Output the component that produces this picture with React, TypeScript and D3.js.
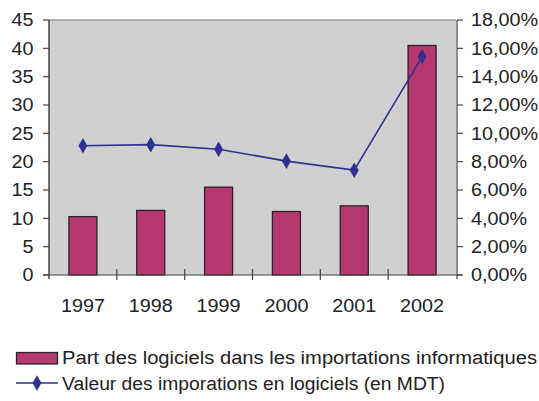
import { useEffect, useRef } from 'react';
import * as d3 from 'd3';

const years = ['1997', '1998', '1999', '2000', '2001', '2002'];
// bars: share of software in IT imports (%), right axis
const partLogiciels = [4.12, 4.56, 6.2, 4.48, 4.88, 16.2];
// line: value of software imports (MDT), left axis
const valeurImports = [22.8, 23.0, 22.2, 20.1, 18.5, 38.5];
const leftTicks = [0, 5, 10, 15, 20, 25, 30, 35, 40, 45];
const rightTicks = [0, 2, 4, 6, 8, 10, 12, 14, 16, 18];

const barLabel = 'Part des logiciels dans les importations informatiques';
const lineLabel = 'Valeur des imporations en logiciels (en MDT)';

export default function App() {
  const ref = useRef<SVGSVGElement | null>(null);

  useEffect(() => {
    const el = ref.current;
    if (!el) return;
    const svg = d3.select(el);
    svg.selectAll('*').remove();

    const font = 'Liberation Sans, Arial, sans-serif';
    const left = 49, right = 456, top = 20, bottom = 275;
    const stretch = 1.07;

    // text with a slight horizontal stretch, like the original
    const label = (g: d3.Selection<SVGGElement, unknown, null, undefined>, s: string, px: number, py: number, anchor: string, dy = '0') =>
      g.append('text').text(s)
        .attr('transform', `translate(${px},${py}) scale(${stretch},1)`)
        .attr('dy', dy)
        .attr('text-anchor', anchor).attr('font-family', font).attr('font-size', 18.5).attr('fill', '#222');

    const x = d3.scaleBand<string>().domain(years).range([left, right]);
    const yL = d3.scaleLinear().domain([0, 45]).range([bottom, top]);
    const yR = d3.scaleLinear().domain([0, 18]).range([bottom, top]);

    svg.append('rect')
      .attr('x', left).attr('y', top)
      .attr('width', right - left).attr('height', bottom - top)
      .attr('fill', '#d0d0d0');
    svg.append('line')
      .attr('x1', left).attr('x2', right).attr('y1', top).attr('y2', top)
      .attr('stroke', '#9a9a9a').attr('stroke-width', 1.5);

    // bars
    const bw = 28;
    svg.append('g')
      .selectAll('rect')
      .data(partLogiciels)
      .join('rect')
      .attr('x', (_, i) => x(years[i])! + x.bandwidth() / 2 - bw / 2)
      .attr('y', (d) => yR(d))
      .attr('width', bw)
      .attr('height', (d) => bottom - yR(d))
      .attr('fill', '#b5396f')
      .attr('stroke', '#2a2226')
      .attr('stroke-width', 1.3);

    // axes lines
    const axisColor = '#444';
    svg.append('line').attr('x1', left).attr('x2', left).attr('y1', top).attr('y2', bottom + 4)
      .attr('stroke', axisColor).attr('stroke-width', 1.5);
    svg.append('line').attr('x1', right + 1).attr('x2', right + 1).attr('y1', top).attr('y2', bottom + 4)
      .attr('stroke', axisColor).attr('stroke-width', 1.2);
    svg.append('line').attr('x1', left - 6).attr('x2', right + 6).attr('y1', bottom).attr('y2', bottom)
      .attr('stroke', axisColor).attr('stroke-width', 1.2);

    // left ticks
    const gl = svg.append('g');
    leftTicks.forEach((t) => {
      gl.append('line').attr('x1', left - 6).attr('x2', left).attr('y1', yL(t)).attr('y2', yL(t))
        .attr('stroke', axisColor).attr('stroke-width', 1.2);
      label(gl, String(t), 33.5, yL(t), 'end', '0.35em');
    });

    // right ticks
    const gr = svg.append('g');
    rightTicks.forEach((t) => {
      gr.append('line').attr('x1', right + 1).attr('x2', right + 7).attr('y1', yR(t)).attr('y2', yR(t))
        .attr('stroke', axisColor).attr('stroke-width', 1.2);
      label(gr, t.toFixed(2).replace('.', ',') + '%', 471, yR(t), 'start', '0.35em');
    });

    // category ticks + labels
    const gx = svg.append('g');
    years.forEach((yr, i) => {
      const bx = x(yr)!;
      if (i > 0) {
        gx.append('line').attr('x1', bx).attr('x2', bx).attr('y1', bottom - 6).attr('y2', bottom + 5)
          .attr('stroke', axisColor).attr('stroke-width', 1.2);
      }
      label(gx, yr, bx + x.bandwidth() / 2, 311.5, 'middle');
    });

    // line
    const line = d3.line<number>()
      .x((_, i) => x(years[i])! + x.bandwidth() / 2)
      .y((d) => yL(d));
    svg.append('path').datum(valeurImports)
      .attr('d', line).attr('fill', 'none')
      .attr('stroke', '#2e3192').attr('stroke-width', 1.6);
    const diamond = d3.symbol().type(d3.symbolDiamond).size(70);
    svg.append('g').selectAll('path')
      .data(valeurImports)
      .join('path')
      .attr('d', diamond)
      .attr('transform', (d, i) => `translate(${x(years[i])! + x.bandwidth() / 2},${yL(d)})`)
      .attr('fill', '#2e3192');

    // legend
    const lg = svg.append('g');
    lg.append('rect').attr('x', 16.5).attr('y', 352.5).attr('width', 41).attr('height', 11.5)
      .attr('fill', '#b5396f').attr('stroke', '#2a2226').attr('stroke-width', 1.3);
    lg.append('text').text(barLabel)
      .attr('x', 62).attr('y', 364).attr('font-family', font).attr('font-size', 18)
      .attr('textLength', 475).attr('lengthAdjust', 'spacingAndGlyphs').attr('fill', '#222');
    lg.append('line').attr('x1', 16).attr('x2', 58).attr('y1', 383).attr('y2', 383)
      .attr('stroke', '#2e3192').attr('stroke-width', 1.6);
    lg.append('path').attr('d', diamond).attr('transform', 'translate(37,383)').attr('fill', '#2e3192');
    lg.append('text').text(lineLabel)
      .attr('x', 62).attr('y', 390).attr('font-family', font).attr('font-size', 18)
      .attr('textLength', 383).attr('lengthAdjust', 'spacingAndGlyphs').attr('fill', '#222');
  }, []);

  return <svg ref={ref} width={539} height={401} style={{ display: 'block', position: 'absolute', left: 0, top: 0 }} />;
}
